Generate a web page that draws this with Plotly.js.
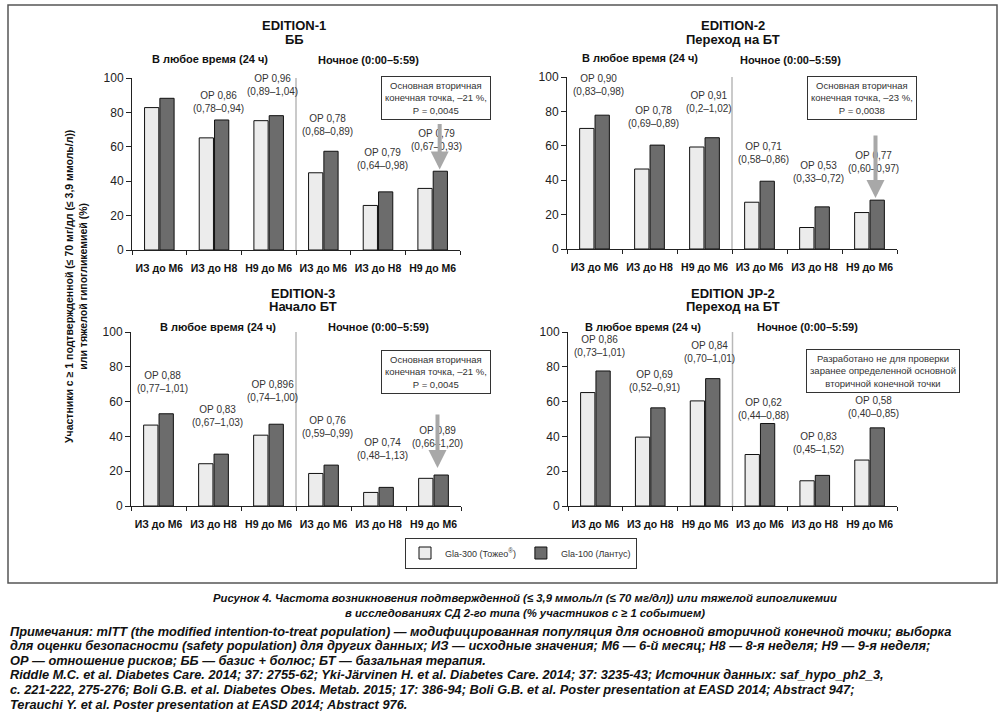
<!DOCTYPE html>
<html>
<head>
<meta charset="utf-8">
<script src="https://cdn.plot.ly/plotly-3.0.1.min.js"></script>
<style>
  html, body { margin: 0; padding: 0; background: #fff; }
  #chart { width: 1000px; height: 714px; }
</style>
</head>
<body>
<div id="chart"></div>
<script>
// ---------------- DATA ----------------
const categories = ['ИЗ до М6', 'ИЗ до Н8', 'Н9 до М6', 'ИЗ до М6', 'ИЗ до Н8', 'Н9 до М6'];
const seriesNames = ['Gla-300 (Тожео<sup>®</sup>)', 'Gla-100 (Лантус)'];

const panelTitles = [['EDITION-1', 'ББ'], ['EDITION-2', 'Переход на БТ'], ['EDITION-3', 'Начало БТ'], ['EDITION JP-2', 'Переход на БТ']];
const groupTitles = ['В любое время (24 ч)', 'Ночное (0:00–5:59)'];

const gla300_ed1 = [82.8, 65.2, 75.2, 44.9, 25.9, 35.8];
const gla100_ed1 = [88.2, 75.6, 78.1, 57.4, 33.8, 45.8];
const gla300_ed2 = [70.1, 46.5, 59.3, 27.2, 12.5, 21.2];
const gla100_ed2 = [77.8, 60.4, 64.7, 39.4, 24.5, 28.4];
const gla300_ed3 = [46.5, 24.3, 40.7, 18.7, 7.8, 15.9];
const gla100_ed3 = [53.0, 29.8, 47.0, 23.5, 10.7, 17.8];
const gla300_jp2 = [65.2, 39.6, 60.4, 29.6, 14.5, 26.4];
const gla100_jp2 = [77.6, 56.4, 73.2, 47.4, 17.6, 44.9];

const orLabels_ed1 = ['ОР 0,93<br>(0,88–0,99)', 'ОР 0,86<br>(0,78–0,94)', 'ОР 0,96<br>(0,89–1,04)', 'ОР 0,78<br>(0,68–0,89)', 'ОР 0,79<br>(0,64–0,98)', 'ОР 0,79<br>(0,67–0,93)'];
const orLabels_ed2 = ['ОР 0,90<br>(0,83–0,98)', 'ОР 0,78<br>(0,69–0,89)', 'ОР 0,91<br>(0,2–1,02)', 'ОР 0,71<br>(0,58–0,86)', 'ОР 0,53<br>(0,33–0,72)', 'ОР 0,77<br>(0,60–0,97)'];
const orLabels_ed3 = ['ОР 0,88<br>(0,77–1,01)', 'ОР 0,83<br>(0,67–1,03)', 'ОР 0,896<br>(0,74–1,00)', 'ОР 0,76<br>(0,59–0,99)', 'ОР 0,74<br>(0,48–1,13)', 'ОР 0,89<br>(0,66–1,20)'];
const orLabels_jp2 = ['ОР 0,86<br>(0,73–1,01)', 'ОР 0,69<br>(0,52–0,91)', 'ОР 0,84<br>(0,70–1,01)', 'ОР 0,62<br>(0,44–0,88)', 'ОР 0,83<br>(0,45–1,52)', 'ОР 0,58<br>(0,40–0,85)'];

const noteBoxes = [
  'Основная вторичная<br>конечная точка, –21 %,<br>P = 0,0045',
  'Основная вторичная<br>конечная точка, –23 %,<br>P = 0,0038',
  'Основная вторичная<br>конечная точка, –21 %,<br>P = 0,0045',
  'Разработано не для проверки<br>заранее определенной основной<br>вторичной конечной точки'
];

const yTitle = 'Участники с ≥ 1 подтвержденной (≤ 70 мг/дл (≤ 3,9 ммоль/л))<br>или тяжелой гипогликемией (%)';
const caption = [
  'Рисунок 4. Частота возникновения подтвержденной (≤ 3,9 ммоль/л (≤ 70 мг/дл)) или тяжелой гипогликемии',
  'в исследованиях СД 2-го типа (% участников с ≥ 1 событием)'
];
const notes = [
  'Примечания: mITT (the modified intention-to-treat population) — модифицированная популяция для основной вторичной конечной точки; выборка',
  'для оценки безопасности (safety population) для других данных; ИЗ — исходные значения; М6 — 6-й месяц; Н8 — 8-я неделя; Н9 — 9-я неделя;',
  'ОР — отношение рисков; ББ — базис + болюс; БТ — базальная терапия.',
  'Riddle M.C. et al. Diabetes Care. 2014; 37: 2755-62; Yki-Järvinen H. et al. Diabetes Care. 2014; 37: 3235-43; Источник данных: saf_hypo_ph2_3,',
  'с. 221-222, 275-276; Boli G.B. et al. Diabetes Obes. Metab. 2015; 17: 386-94; Boli G.B. et al. Poster presentation at EASD 2014; Abstract 947;',
  'Terauchi Y. et al. Poster presentation at EASD 2014; Abstract 976.'
];

// ---------------- LAYOUT HELPERS ----------------
const W = 1000, H = 714;
const px = x => x / W;
const py = y => 1 - y / H;
const FONT = 'Liberation Sans, Arial, Helvetica, sans-serif';

// unique category keys (duplicated labels in the second half)
const catKeys = categories.map((c, i) => i >= 3 ? c + '\u200b' : c);

const panels = [
  { light: gla300_ed1, dark: gla100_ed1, labels: orLabels_ed1, labelY: [100.4, 86.3, 95.7, 72.9, 53.0, 64.2],
    xd: [132, 460], yd: [78, 250], title: [294, 26, 39], sub: [[210, 59], [368, 60]],
    box: [436, 98.5], arrow: { y: 46.8, ay: -53, xshift: 7 } },
  { light: gla300_ed2, dark: gla100_ed2, labels: orLabels_ed2, labelY: [95.4, 76.6, 85.7, 56.0, 44.8, 50.6],
    xd: [567, 897], yd: [77, 249], title: [733, 26, 39], sub: [[640, 58], [790, 60]],
    box: [861.5, 98], arrow: { y: 29.6, ay: -70, xshift: 6 } },
  { light: gla300_ed3, dark: gla100_ed3, labels: orLabels_ed3, labelY: [71.1, 51.6, 66.3, 45.3, 32.9, 39.6],
    xd: [131, 461], yd: [332, 506], title: [303, 293, 306], sub: [[218, 327], [378, 327]],
    box: [436, 371.5], arrow: { y: 21.8, ay: -61, xshift: 4 } },
  { light: gla300_jp2, dark: gla100_jp2, labels: orLabels_jp2, labelY: [92.2, 72.1, 88.5, 55.5, 36.3, 56.8],
    xd: [568, 897], yd: [332, 506], title: [733, 293, 306], sub: [[643, 327], [807, 327]],
    box: [883, 370.5], arrow: null }
];

const traces = [];
const annotations = [];
const shapes = [];
const layout = {
  width: W, height: H,
  margin: { l: 0, r: 0, t: 0, b: 0 },
  paper_bgcolor: '#fff', plot_bgcolor: 'rgba(0,0,0,0)',
  font: { family: FONT, color: '#222', size: 11 },
  barmode: 'group', bargap: 0.44, bargroupgap: 0.07,
  showlegend: true,
  legend: {
    orientation: 'h', x: 0.521, y: py(553), xanchor: 'center', yanchor: 'middle',
    bgcolor: '#fff', bordercolor: '#333', borderwidth: 1,
    font: { family: FONT, size: 9, color: '#333' },
    itemwidth: 30, tracegroupgap: 0
  },
  annotations, shapes
};

panels.forEach((p, i) => {
  const n = i + 1;
  const xa = 'x' + (n === 1 ? '' : n), ya = 'y' + (n === 1 ? '' : n);
  const xaxisName = 'xaxis' + (n === 1 ? '' : n), yaxisName = 'yaxis' + (n === 1 ? '' : n);

  traces.push({
    type: 'bar', x: catKeys, y: p.light, xaxis: xa, yaxis: ya, name: seriesNames[0],
    marker: { color: '#ececec', line: { color: '#111', width: 1 } },
    showlegend: i === 0, legendgroup: 'a', hoverinfo: 'y'
  });
  traces.push({
    type: 'bar', x: catKeys, y: p.dark, xaxis: xa, yaxis: ya, name: seriesNames[1],
    marker: { color: '#6c6c6c', line: { color: '#111', width: 1 } },
    showlegend: i === 0, legendgroup: 'b', hoverinfo: 'y'
  });

  layout[xaxisName] = {
    domain: [px(p.xd[0]), px(p.xd[1])], anchor: ya, type: 'category',
    categoryorder: 'array', categoryarray: catKeys,
    range: [-0.5, categories.length - 0.5], autorange: false,
    showline: true, linecolor: '#222', linewidth: 1,
    ticks: 'outside', tickson: 'boundaries', ticklen: 4, tickcolor: '#222',
    tickangle: 0, automargin: false, ticklabelstandoff: 8,
    showgrid: false, zeroline: false, fixedrange: true,
    tickfont: { family: FONT, size: 10.5, color: '#111', weight: 'bold' }
  };
  layout[yaxisName] = {
    domain: [py(p.yd[1]), py(p.yd[0])], anchor: xa, range: [0, 100], autorange: false,
    tickvals: [0, 20, 40, 60, 80, 100],
    showline: true, linecolor: '#222', linewidth: 1,
    ticks: 'outside', ticklen: 5, tickcolor: '#222',
    showgrid: false, zeroline: false, fixedrange: true,
    tickfont: { family: FONT, size: 12, color: '#222' }
  };

  // divider between 24h and nocturnal groups
  shapes.push({ type: 'line', xref: xa, yref: ya, x0: 2.5, x1: 2.5, y0: 0, y1: 100,
    line: { color: '#b8b8b8', width: 1.5 } });

  // OR labels
  p.labels.forEach((t, j) => {
    annotations.push({ xref: xa, yref: ya, x: catKeys[j], y: p.labelY[j], text: t,
      showarrow: false, xshift: 4, yanchor: 'middle',
      font: { family: FONT, size: 10, color: '#333' } });
  });

  // panel title (two lines)
  panelTitles[i].forEach((t, k) => {
    annotations.push({ xref: 'paper', yref: 'paper', x: px(p.title[0]), y: py(p.title[1 + k]), text: t,
      showarrow: false, xanchor: 'center', yanchor: 'middle',
      font: { family: FONT, size: 13, color: '#111', weight: 'bold' } });
  });

  // group titles
  groupTitles.forEach((g, k) => {
    annotations.push({ xref: 'paper', yref: 'paper', x: px(p.sub[k][0]), y: py(p.sub[k][1]), text: g,
      showarrow: false, xanchor: 'center', yanchor: 'middle',
      font: { family: FONT, size: 11, color: '#111', weight: 'bold' } });
  });

  // note box
  annotations.push({ xref: 'paper', yref: 'paper', x: px(p.box[0]), y: py(p.box[1]),
    text: noteBoxes[i], showarrow: false, xanchor: 'center', yanchor: 'middle',
    bgcolor: '#fff', bordercolor: '#333', borderwidth: 1, borderpad: 3,
    font: { family: FONT, size: 9.5, color: '#333' } });

  // vertical grey arrow pointing at the nocturnal Н9–М6 pair
  if (p.arrow) {
    annotations.push({ xref: xa, yref: ya, x: catKeys[5], y: p.arrow.y, xshift: p.arrow.xshift,
      text: ' ', showarrow: true, ax: 0, ay: p.arrow.ay,
      arrowhead: 2, arrowsize: 0.9, arrowwidth: 4, arrowcolor: '#a8a8a8' });
  }
});

// shared y title
annotations.push({ xref: 'paper', yref: 'paper', x: px(76), y: py(287), text: yTitle,
  showarrow: false, textangle: -90, xanchor: 'center', yanchor: 'middle',
  font: { family: FONT, size: 10.5, color: '#111', weight: 'bold' } });

// caption
caption.forEach((t, k) => {
  annotations.push({ xref: 'paper', yref: 'paper', x: 0.525, y: py(598 + k * 15), text: '<b><i>' + t + '</i></b>',
    showarrow: false, xanchor: 'center', yanchor: 'middle',
    font: { family: FONT, size: 11.3, color: '#111' } });
});

// notes
notes.forEach((t, k) => {
  annotations.push({ xref: 'paper', yref: 'paper', x: px(8), y: py(631 + k * 14.6), text: '<b><i>' + t + '</i></b>',
    showarrow: false, xanchor: 'left', yanchor: 'middle', align: 'left',
    font: { family: FONT, size: 12.8, color: '#111' } });
});

// outer frame
shapes.push({ type: 'rect', xref: 'paper', yref: 'paper', x0: px(8), x1: px(997), y0: py(583), y1: py(5),
  line: { color: '#555', width: 1.5 }, fillcolor: 'rgba(0,0,0,0)', layer: 'below' });

Plotly.newPlot('chart', traces, layout, { staticPlot: true, displayModeBar: false });
</script>
</body>
</html>
